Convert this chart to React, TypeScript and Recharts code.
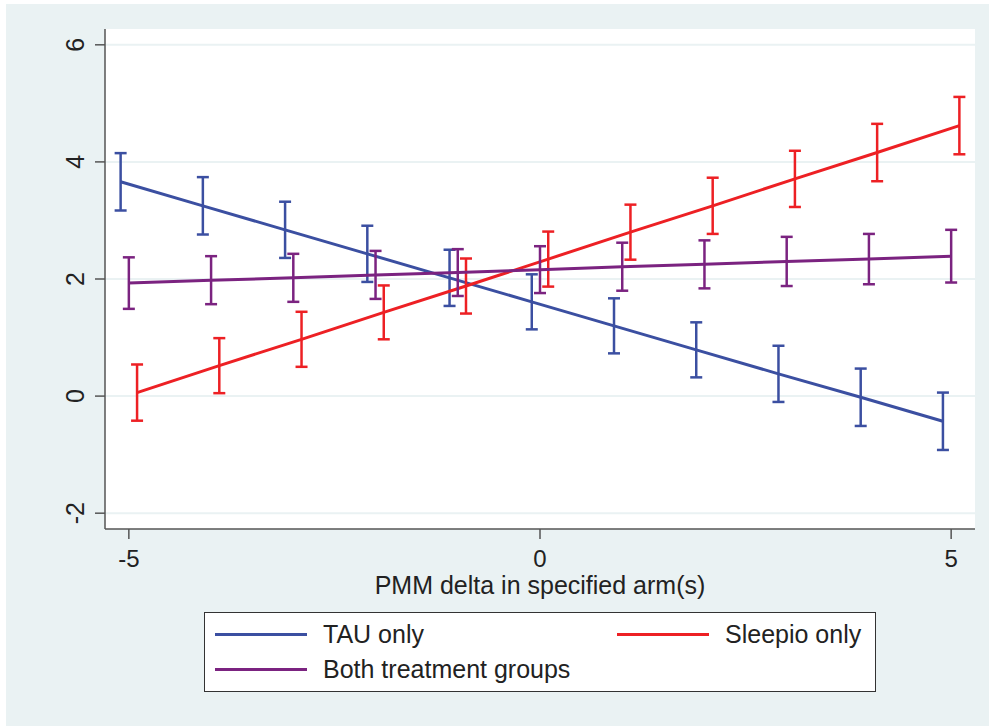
import { LineChart, Line, XAxis, YAxis, CartesianGrid, ErrorBar } from "recharts";

// PMM delta values on the x axis
const deltas = [-5, -4, -3, -2, -1, 0, 1, 2, 3, 4, 5];

// point estimates and half-width of the 95% CI
const tauMean = [3.66, 3.25, 2.84, 2.43, 2.02, 1.61, 1.2, 0.79, 0.38, -0.02, -0.43];
const tauErr = [0.49, 0.49, 0.48, 0.48, 0.48, 0.47, 0.47, 0.47, 0.48, 0.49, 0.49];

const sleepioMean = [0.06, 0.52, 0.97, 1.43, 1.88, 2.34, 2.8, 3.25, 3.71, 4.16, 4.62];
const sleepioErr = [0.48, 0.47, 0.47, 0.46, 0.47, 0.47, 0.47, 0.48, 0.48, 0.49, 0.49];

const bothMean = [1.93, 1.98, 2.02, 2.07, 2.11, 2.16, 2.21, 2.25, 2.3, 2.34, 2.39];
const bothErr = [0.44, 0.41, 0.41, 0.41, 0.4, 0.4, 0.41, 0.41, 0.42, 0.43, 0.45];

const yTicks = [-2, 0, 2, 4, 6];
const xTicks = [-5, 0, 5];

const BLUE = "#3b4fa1";
const RED = "#ed2024";
const PURPLE = "#7b2380";
const BG = "#eaf2f3";
const AXIS = "#555";
const TEXT = "#222";
const FONT = "'Liberation Sans', Arial, sans-serif";

// small horizontal dodge so the error bars don't sit on top of each other
const build = (means: number[], errs: number[], shift: number) =>
  deltas.map((d, i) => ({ x: d + shift, y: means[i], err: errs[i] }));

const tauData = build(tauMean, tauErr, -0.1);
const sleepioData = build(sleepioMean, sleepioErr, 0.1);
const bothData = build(bothMean, bothErr, 0);

function YTick({ x, y, payload }: any) {
  const cx = x - 18;
  return (
    <text
      x={cx}
      y={y}
      transform={`rotate(-90 ${cx} ${y})`}
      textAnchor="middle"
      dominantBaseline="central"
      fontSize={25}
      fontFamily={FONT}
      fill={TEXT}
    >
      {payload.value}
    </text>
  );
}

function XTick({ x, y, payload }: any) {
  return (
    <text
      x={x}
      y={y + 17}
      textAnchor="middle"
      dominantBaseline="central"
      fontSize={24}
      fontFamily={FONT}
      fill={TEXT}
    >
      {payload.value}
    </text>
  );
}

function LegendItem({ color, label, left, top }: { color: string; label: string; left: number; top: number }) {
  return (
    <div style={{ position: "absolute", left, top, display: "flex", alignItems: "center", height: 0 }}>
      <div style={{ width: 92, height: 3, background: color }} />
      <span style={{ marginLeft: 16, fontSize: 25, color: TEXT, whiteSpace: "nowrap", lineHeight: "25px" }}>{label}</span>
    </div>
  );
}

export default function App() {
  return (
    <div style={{ position: "fixed", left: 0, top: 0, width: 989, height: 726, background: "#fff", fontFamily: FONT }}>
      <div style={{ position: "absolute", left: 6, top: 4, right: 0, bottom: 0, background: BG }} />
      <LineChart
        width={989}
        height={726}
        margin={{ top: 29, right: 14, bottom: 0, left: 0 }}
        style={{ position: "absolute", left: 0, top: 0 }}
      >
        <CartesianGrid fill="#fff" stroke={BG} strokeWidth={2} vertical={false} horizontalValues={yTicks} />
        <XAxis
          type="number"
          dataKey="x"
          domain={[-5.29, 5.29]}
          ticks={xTicks}
          allowDataOverflow
          height={197}
          tickSize={10}
          tick={<XTick />}
          axisLine={{ stroke: AXIS, strokeWidth: 1.5 }}
          tickLine={{ stroke: AXIS, strokeWidth: 1.5 }}
        />
        <YAxis
          type="number"
          domain={[-2.27, 6.27]}
          ticks={yTicks}
          allowDataOverflow
          width={105}
          tickSize={10}
          tick={<YTick />}
          axisLine={{ stroke: AXIS, strokeWidth: 1.5 }}
          tickLine={{ stroke: AXIS, strokeWidth: 1.5 }}
        />
        <Line data={tauData} dataKey="y" stroke={BLUE} strokeWidth={3} dot={false} isAnimationActive={false}>
          <ErrorBar dataKey="err" direction="y" width={6} stroke={BLUE} strokeWidth={2.5} isAnimationActive={false} />
        </Line>
        <Line data={sleepioData} dataKey="y" stroke={RED} strokeWidth={3} dot={false} isAnimationActive={false}>
          <ErrorBar dataKey="err" direction="y" width={6} stroke={RED} strokeWidth={2.5} isAnimationActive={false} />
        </Line>
        <Line data={bothData} dataKey="y" stroke={PURPLE} strokeWidth={3} dot={false} isAnimationActive={false}>
          <ErrorBar dataKey="err" direction="y" width={6} stroke={PURPLE} strokeWidth={2.5} isAnimationActive={false} />
        </Line>
      </LineChart>
      <div
        style={{
          position: "absolute",
          left: 540,
          top: 585,
          transform: "translate(-50%, -50%)",
          fontSize: 25,
          lineHeight: "25px",
          color: TEXT,
          whiteSpace: "nowrap",
        }}
      >
        PMM delta in specified arm(s)
      </div>
      <div
        style={{
          position: "absolute",
          left: 204,
          top: 612,
          width: 672,
          height: 80,
          boxSizing: "border-box",
          border: "1px solid #333",
          background: "#fff",
        }}
      />
      <LegendItem color={BLUE} label="TAU only" left={215} top={634} />
      <LegendItem color={RED} label="Sleepio only" left={617} top={634} />
      <LegendItem color={PURPLE} label="Both treatment groups" left={215} top={669} />
    </div>
  );
}
